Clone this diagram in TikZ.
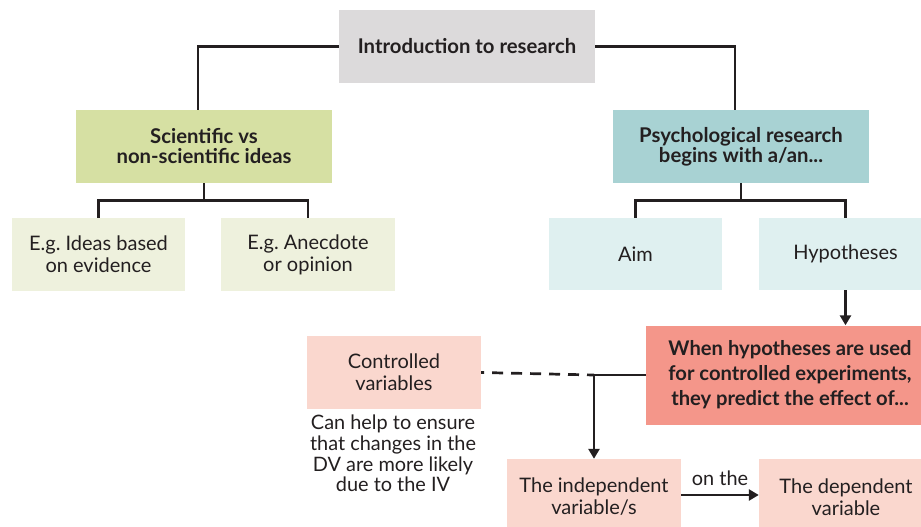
\documentclass[tikz,border=0pt]{standalone}
\usepackage{fontspec}
\setmainfont{Lato}
\usetikzlibrary{arrows.meta}
\frenchspacing
\definecolor{ink}{HTML}{231F20}
\definecolor{introgray}{HTML}{DCDADB}
\definecolor{scigreen}{HTML}{D6E0A3}
\definecolor{palegreen}{HTML}{EEF1DD}
\definecolor{teal}{HTML}{A8D2D3}
\definecolor{paleteal}{HTML}{DFF0F0}
\definecolor{salmon}{HTML}{F4968A}
\definecolor{palepink}{HTML}{FAD7CE}
\begin{document}
\begin{tikzpicture}[x=1pt,y=-1pt,
  box/.style={rectangle, inner sep=0pt, align=center, text=ink,
    font=\fontsize{20}{22}\selectfont},
  boldbox/.style={box, font=\fontsize{20.3}{20}\selectfont\bfseries},
  link/.style={draw=ink, line width=2.7pt},
  arrowlink/.style={link, -{Triangle[length=10pt,width=11pt]}},
  note/.style={text=ink, align=center, inner sep=0pt,
    font=\fontsize{19.9}{20.7}\selectfont}]
\useasboundingbox (0,0) rectangle (921,527);
\clip (0,0) rectangle (921,527);

% top level
\node[boldbox, fill=introgray, minimum width=256pt, minimum height=73pt] (intro) at (467,46.5) {Introduction to research};

% left branch
\node[boldbox, fill=scigreen, minimum width=256pt, minimum height=73pt] (sci) at (204,146.5) {Scientific vs\\non-scientific ideas};
\node[box, fill=palegreen, minimum width=173pt, minimum height=73pt] (ev) at (98.5,254.5) {E.g. Ideas based\\on evidence};
\node[box, fill=palegreen, minimum width=174pt, minimum height=73pt] (op) at (308,254.5) {E.g. Anecdote\\or opinion};

% right branch
\node[boldbox, fill=teal, minimum width=256pt, minimum height=73pt] (psy) at (741,146.5) {Psychological research\\begins with a/an...};
\node[box, fill=paleteal, minimum width=173pt, minimum height=72pt] (aim) at (635.5,254) {Aim};
\node[box, fill=paleteal, minimum width=173pt, minimum height=72pt] (hyp) at (845.5,254) {Hypotheses};

% experiments
\node[boldbox, fill=salmon, minimum width=288pt, minimum height=99pt,
  font=\fontsize{20.2}{25}\selectfont\bfseries] (pred) at (790,375) {When hypotheses are used\\for controlled experiments,\\they predict the effect of...};
\node[box, fill=palepink, minimum width=174pt, minimum height=73pt] (ctrl) at (394,372.5) {Controlled\\variables};
\node[note, anchor=north] (help) at (393,415) {Can help to ensure\\that changes in the\\DV are more likely\\due to the IV};
\node[box, fill=palepink, minimum width=174pt, minimum height=76pt] (iv) at (594,497) {The independent\\variable/s};
\node[box, fill=palepink, minimum width=174pt, minimum height=76pt] (dv) at (846,497) {The dependent\\variable};

% connectors
\draw[link] (intro.west) -| ([xshift=-6pt]sci.north);
\draw[link] (intro.east) -| ([xshift=-6pt]psy.north);
\coordinate (scijoin) at ([yshift=-17pt]sci.south);
\draw[link] (sci.south) -- (scijoin);
\draw[link] (ev.north) |- (scijoin) -| (op.north);
\coordinate (psyjoin) at ([yshift=-17pt]psy.south);
\draw[link] (psy.south) -- (psyjoin);
\draw[link] (aim.north) |- (psyjoin) -| (hyp.north);
\draw[arrowlink] (hyp.south) -- (hyp.south |- pred.north);
\coordinate (split) at (pred.west -| iv.north);
\draw[link] (pred.west) -- (split);
\draw[link, dash pattern=on 11pt off 8pt, dash phase=4pt] (split) -- (ctrl.east);
\draw[arrowlink] (split) -- (iv.north);
\draw[arrowlink] (iv.east |- 0,495) -- (dv.west |- 0,495) node[midway, above=8pt, note] (onthe) {on the};
\end{tikzpicture}
\end{document}
